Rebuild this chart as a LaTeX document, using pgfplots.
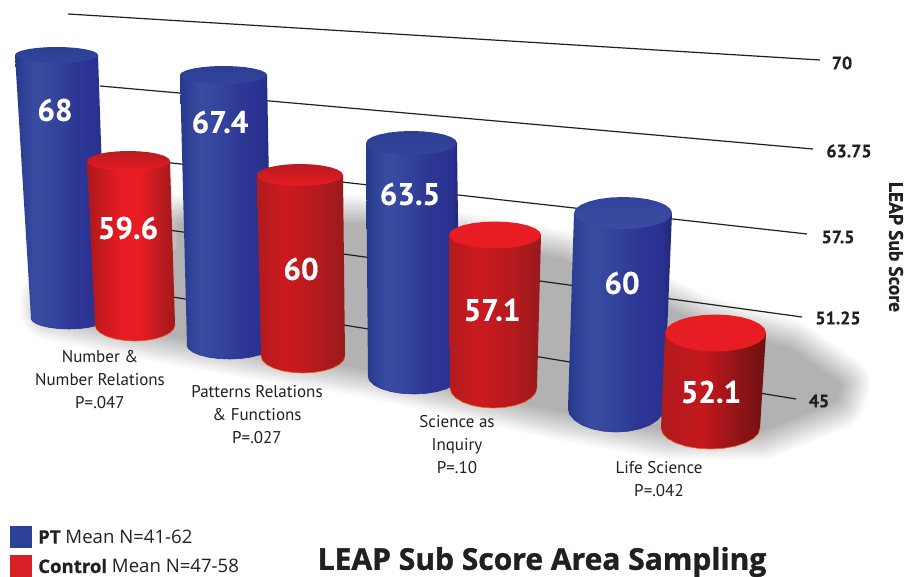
\documentclass[border=0pt]{standalone}
\usepackage{pgfplots}
\usepackage{pgfplotstable}
\usepackage{fontspec}
\pgfplotsset{compat=1.18}
\setmainfont[BoldFeatures={FakeBold=0.4}]{PT Sans}
\newfontfamily\ofont[BoldFeatures={FakeBold=0.8}]{Open Sans}
\newfontfamily\tfont[BoldFeatures={FakeBold=1.2}]{Open Sans}
\definecolor{ink}{HTML}{231F20}
\definecolor{legblue}{HTML}{2E4098}
\definecolor{legred}{HTML}{DA1F26}
\definecolor{bA}{HTML}{26388C}\definecolor{bB}{HTML}{2B3F94}\definecolor{bC}{HTML}{3A4CA2}
\definecolor{bD}{HTML}{33439C}\definecolor{bE}{HTML}{2D3795}\definecolor{bF}{HTML}{2A3190}\definecolor{bG}{HTML}{202878}
\pgfdeclarehorizontalshading{bluecyl}{100bp}{color(0bp)=(bA);color(25bp)=(bA);color(28bp)=(bB);color(36bp)=(bC);color(48bp)=(bD);color(58bp)=(bE);color(70bp)=(bF);color(75bp)=(bG);color(100bp)=(bG)}
\definecolor{rA}{HTML}{A8181C}\definecolor{rB}{HTML}{C41A1F}\definecolor{rC}{HTML}{E81C23}\definecolor{rD}{HTML}{B81B1F}\definecolor{rE}{HTML}{A0181B}
\pgfdeclarehorizontalshading{redcylA}{100bp}{color(0bp)=(rA);color(25bp)=(rA);color(32bp)=(rB);color(45bp)=(rC);color(55bp)=(rC);color(68bp)=(rD);color(75bp)=(rE);color(100bp)=(rE)}
\definecolor{sA}{HTML}{B01A1E}\definecolor{sB}{HTML}{CC1A20}\definecolor{sC}{HTML}{B41A1E}\definecolor{sD}{HTML}{981A1C}
\pgfdeclarehorizontalshading{redcylB}{100bp}{color(0bp)=(sA);color(25bp)=(sA);color(40bp)=(sB);color(60bp)=(sC);color(75bp)=(sD);color(100bp)=(sD)}
\definecolor{tA}{HTML}{B01A1E}\definecolor{tB}{HTML}{C4181E}\definecolor{tC}{HTML}{8F1417}\definecolor{tD}{HTML}{6E1012}
\pgfdeclarehorizontalshading{redcylC}{100bp}{color(0bp)=(tA);color(25bp)=(tA);color(45bp)=(tB);color(62bp)=(tC);color(75bp)=(tD);color(100bp)=(tD)}
% outline of one cylinder, from its measured corners:
% top left/right x, top centre y, top y radius, foot left/right x, foot centre y, foot y radius; then body, top and rim styles
\newcommand{\cyl}[8]{\def\cA{#1}\def\cB{#2}\def\cC{#3}\def\cD{#4}\def\cE{#5}\def\cF{#6}\def\cG{#7}\def\cH{#8}\cylfinish}
\newcommand{\cylfinish}[3]{%
  \pgfmathsetmacro\cxb{(\cE+\cF)/2}\pgfmathsetmacro\rxb{(\cF-\cE)/2}%
  \pgfmathsetmacro\cxt{(\cA+\cB)/2}\pgfmathsetmacro\rxt{(\cB-\cA)/2}%
  \gdef\ptsb{}\gdef\ptst{}%
  \foreach \a in {0,15,...,180}{%
    \pgfmathsetmacro\px{\cxb+\rxb*cos(\a)}\pgfmathsetmacro\py{\cG+\cH*sin(\a)}%
    \xdef\ptsb{\ptsb (\px,\py)}}%
  \foreach \a in {0,15,...,345}{%
    \pgfmathsetmacro\px{\cxt+\rxt*cos(\a)}\pgfmathsetmacro\py{\cC+\cD*sin(\a)}%
    \xdef\ptst{\ptst (\px,\py)}}%
  \edef\doit{\noexpand\addplot[draw=none,shading=#1] coordinates {(\cB,\cC) \ptsb (\cA,\cC)} -- cycle;
    \noexpand\addplot[#3,line width=0.6pt,line cap=round] coordinates {\ptsb};
    \noexpand\addplot[draw=none,#2] coordinates {\ptst} -- cycle;}%
  \doit}
\pgfplotstableread{
x y lab
55 110 68
220 122 67.4
410 194 63.5
622 283 60
}\ptvalues
\pgfplotstableread{
x y lab
128 228 59.6
301 269 60
492 310 57.1
711 392 52.1
}\controlvalues
\begin{document}
\begin{tikzpicture}
\begin{axis}[
  scale only axis,width=915pt,height=577pt,
  xmin=0,xmax=915,ymin=0,ymax=577,y dir=reverse,
  hide axis,clip=false,
  valnode/.style={nodes near coords,point meta=explicit symbolic,draw=none,mark=none,
    every node near coord/.append style={anchor=center,inner sep=0pt,text=white,font=\fontsize{31}{31}\selectfont\bfseries}},
]
% soft shadow on the floor: opaque greys from the rim inwards
\pgfplotsinvokeforeach{2,4,6,8,10,12,14,16,18,20,22,24,26,28,30}{
\addplot[fill=black!#1,draw=black!#1,line width={(32-#1)*2pt},line join=round] coordinates {
(50,300)(50,310)(105,322)(190,338)(270,352)(370,368)(560,410)(670,430)(760,430)(835,400)(840,385)(790,350)(700,325)(560,260)(360,225)(180,225)(180,250)(120,280)} -- cycle;
}
\addplot[fill=white,draw=none] coordinates {(0,0)(915,0)(915,192)(0,192)} -- cycle;
% grid lines on the back wall
\addplot[ink,line width=1.2pt] coordinates {(68,14)(820,60)};
\addplot[ink,line width=1.2pt] coordinates {(100,86)(813,149)};
\addplot[ink,line width=1.2pt] coordinates {(100,155)(807,234)};
\addplot[ink,line width=1.2pt] coordinates {(110,222)(802,317)};
\addplot[ink,line width=1.2pt] coordinates {(130,290)(796,399)};
% cylinders
\cyl{15}{98}{55}{8}{31}{107}{318}{11}{bluecyl}{top color=bB,bottom color=bD}{draw=bF}
\cyl{87}{170}{161}{10}{95}{175}{325}{16}{redcylA}{top color=rD,bottom color=rC}{draw=orange!60!rC}
\cyl{180}{267}{75}{9}{187}{272}{345}{14}{bluecyl}{top color=bB,bottom color=bD}{draw=bF}
\cyl{257}{343}{175}{11}{261}{345}{356}{17}{redcylB}{top color=rD,bottom color=rC}{draw=orange!60!rC}
\cyl{366}{457}{143}{12}{368}{460}{376}{18}{bluecyl}{top color=bB,bottom color=bD}{draw=bF}
\cyl{449}{541}{235}{13.5}{450}{537}{388}{20}{redcylB}{top color=rC,bottom color=rC}{draw=orange!60!rC}
\cyl{574}{672}{213}{16}{568}{664}{408}{24}{bluecyl}{top color=bD,bottom color=bC}{draw=bF}
\cyl{665}{766}{333}{18.5}{661}{760}{428}{21}{redcylC}{top color=rC,bottom color=rC}{draw=orange!60!rC}
% value labels
\addplot[valnode] table[x=x,y=y,meta=lab] {\ptvalues};
\addplot[valnode] table[x=x,y=y,meta=lab] {\controlvalues};
% legend keys
\addplot[fill=legblue,draw=none] coordinates {(10,526)(32,526)(32,548)(10,548)} -- cycle;
\addplot[fill=legred,draw=none] coordinates {(10,555)(32,555)(32,577)(10,577)} -- cycle;
% axis tick labels
\tikzset{tick/.style={font=\fontsize{18}{18}\selectfont\bfseries,text=ink,inner sep=0pt}}
\node[tick] at (axis cs:842,63) {70};
\node[tick] at (axis cs:849,151) {63.75};
\node[tick] at (axis cs:838,237) {57.5};
\node[tick] at (axis cs:838,318) {51.25};
\node[tick] at (axis cs:819,401) {45};
\node[rotate=-90,font=\fontsize{19.5}{20}\selectfont\bfseries,text=ink,inner sep=0pt] at (axis cs:896,247) {LEAP Sub Score};
% category labels
\tikzset{cat/.style={font=\fontsize{17}{23}\selectfont,text=ink,inner sep=0pt,align=center}}
\node[cat] at (axis cs:100,380) {Number \&\\Number Relations\\P=.047};
\node[cat] at (axis cs:257,415) {Patterns Relations\\\& Functions\\P=.027};
\node[cat] at (axis cs:457,445) {Science as\\Inquiry\\P=.10};
\node[cat] at (axis cs:659,479) {Life Science\\P=.042};
% legend text and title
\node[anchor=west,inner sep=0pt,text=ink,font=\ofont\fontsize{18.6}{18.6}\selectfont] at (axis cs:38,537) {\textbf{PT} Mean N=41-62};
\node[anchor=west,inner sep=0pt,text=ink,font=\ofont\fontsize{18.6}{18.6}\selectfont] at (axis cs:38,566) {\textbf{Control} Mean N=47-58};
\node[inner sep=0pt,text=ink,font=\tfont\fontsize{30}{30}\selectfont\bfseries] at (axis cs:542,562) {LEAP Sub Score Area Sampling};
\end{axis}
\end{tikzpicture}
\end{document}
